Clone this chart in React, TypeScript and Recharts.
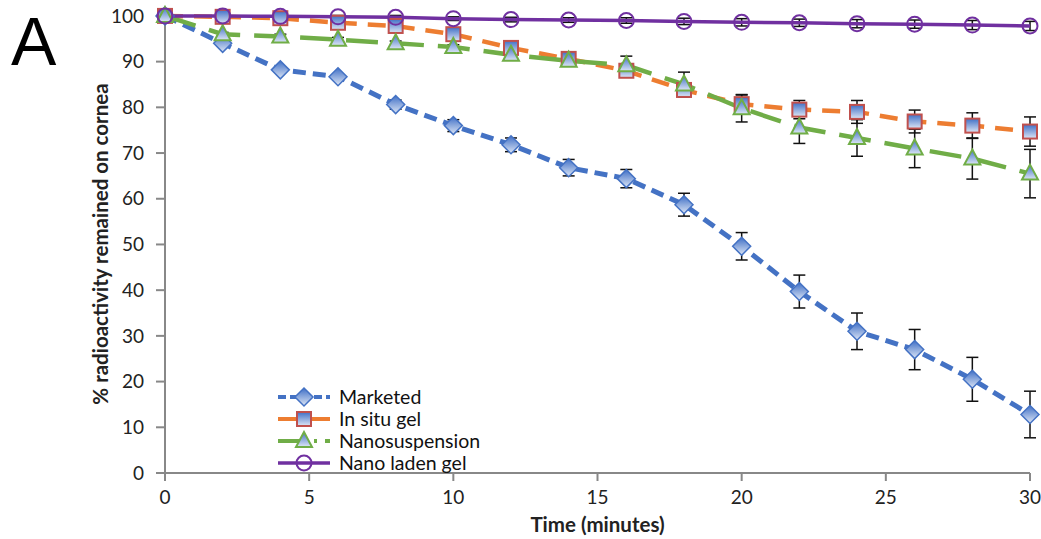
import React from 'react';
import { LineChart, Line, XAxis, YAxis, ErrorBar, Label } from 'recharts';

const times = [0, 2, 4, 6, 8, 10, 12, 14, 16, 18, 20, 22, 24, 26, 28, 30];
const marketed = [100, 94, 88.2, 86.7, 80.6, 76, 71.8, 66.8, 64.4, 58.7, 49.6, 39.7, 31, 27, 20.5, 12.8];
const marketedErr = [0, 0.5, 0.5, 0.5, 1, 1.3, 1.5, 1.8, 2, 2.5, 3, 3.6, 4, 4.4, 4.8, 5.1];
const inSitu = [100, 99.8, 99.5, 98.5, 97.8, 96, 93, 90.6, 88, 83.8, 80.7, 79.5, 79, 76.9, 76, 74.7];
const inSituErr = [0, 0.3, 0.5, 0.5, 0.7, 0.8, 1, 1, 1.2, 1.5, 2, 2, 2.5, 2.5, 2.8, 3.2];
const nanoSusp = [100, 96, 95.5, 94.8, 94, 93.2, 91.5, 90.2, 89.2, 85, 79.8, 75.6, 73.3, 71, 68.8, 65.5];
const nanoSuspErr = [0, 0.4, 0.5, 0.5, 0.5, 0.5, 0.8, 1, 2, 2.7, 3, 3.5, 4, 4.2, 4.5, 5.3];
const nanoGel = [100, 100, 99.9, 99.8, 99.7, 99.4, 99.2, 99.1, 99, 98.8, 98.6, 98.5, 98.3, 98.2, 98, 97.8];
const nanoGelErr = [0, 0.2, 0.3, 0.3, 0.4, 0.4, 0.5, 0.5, 0.6, 0.7, 0.8, 0.8, 0.9, 0.9, 1, 1];

const xTicks = [0, 5, 10, 15, 20, 25, 30];
const yTicks = [0, 10, 20, 30, 40, 50, 60, 70, 80, 90, 100];

const seriesNames = ['Marketed', 'In situ gel', 'Nanosuspension', 'Nano laden gel'];

const data = times.map((t, i) => ({
  t,
  m: marketed[i], mErr: marketedErr[i],
  s: inSitu[i], sErr: inSituErr[i],
  n: nanoSusp[i], nErr: nanoSuspErr[i],
  g: nanoGel[i], gErr: nanoGelErr[i],
}));

const BLUE = '#4472C4';
const ORANGE = '#ED7D31';
const RED = '#C0504D';
const GREEN = '#70AD47';
const PURPLE = '#7030A0';

const DiamondShape = ({ cx, cy, fill }: any) => (
  <polygon points={`${cx},${cy - 9} ${cx + 9},${cy} ${cx},${cy + 9} ${cx - 9},${cy}`} fill={fill || 'url(#gradBlue)'} stroke={BLUE} strokeWidth={1.5} />
);
const SquareShape = ({ cx, cy, fill }: any) => (
  <rect x={cx - 7} y={cy - 7} width={14} height={14} fill={fill || 'url(#gradBlue)'} stroke={RED} strokeWidth={2} />
);
const TriangleShape = ({ cx, cy, fill }: any) => (
  <polygon points={`${cx},${cy - 9} ${cx + 8},${cy + 6} ${cx - 8},${cy + 6}`} fill={fill || 'url(#gradBlue)'} stroke={GREEN} strokeWidth={2} />
);
const CircleShape = ({ cx, cy }: any) => (
  <circle cx={cx} cy={cy} r={7.5} fill="none" stroke={PURPLE} strokeWidth={2} />
);

const legendDefs = [
  { name: seriesNames[0], color: BLUE, dash: '8 4', width: 4, shape: DiamondShape },
  { name: seriesNames[1], color: ORANGE, dash: undefined, width: 4, shape: SquareShape },
  { name: seriesNames[2], color: GREEN, dash: '28 8 3 8', width: 4, shape: TriangleShape },
  { name: seriesNames[3], color: PURPLE, dash: undefined, width: 3.5, shape: CircleShape },
];

const LegendBox = () => (
  <div style={{ position: 'absolute', left: 276, top: 386, display: 'flex', flexDirection: 'column' }}>
    {legendDefs.map((d) => {
      const Shape = d.shape;
      return (
        <div key={d.name} style={{ display: 'flex', alignItems: 'center', height: 22 }}>
          <svg width={56} height={22}>
            <defs>
              <linearGradient id={`lg${d.width}${d.color.slice(1)}`} x1="0" y1="0" x2="0" y2="1">
                <stop offset="0%" stopColor="#3f6fc6" />
                <stop offset="100%" stopColor="#dde6f5" />
              </linearGradient>
            </defs>
            <line x1={2} y1={11} x2={54} y2={11} stroke={d.color} strokeWidth={d.width} strokeDasharray={d.dash} />
            <Shape cx={28} cy={11} fill={`url(#lg${d.width}${d.color.slice(1)})`} />
          </svg>
          <span style={{ marginLeft: 7, fontSize: 19.5, color: '#111', fontFamily: 'Lato', lineHeight: '22px' }}>{d.name}</span>
        </div>
      );
    })}
  </div>
);

export default function App() {
  return (
    <div style={{ position: 'absolute', left: 0, top: 0, width: 1041, height: 539, background: '#fff', fontFamily: 'Lato' }}>
      <div style={{ position: 'absolute', left: 11, top: 7, fontSize: 68, fontFamily: 'Liberation Sans', color: '#000', lineHeight: 1 }}>A</div>
      <LineChart width={1041} height={539} data={data} margin={{ top: 15, right: 11, bottom: 0, left: 0 }}>
        <defs>
          <linearGradient id="gradBlue" x1="0" y1="0" x2="0" y2="1">
            <stop offset="0%" stopColor="#3f6fc6" />
            <stop offset="100%" stopColor="#dde6f5" />
          </linearGradient>
        </defs>
        <XAxis
          dataKey="t"
          type="number"
          domain={[0, 30]}
          ticks={xTicks}
          height={66}
          stroke="#888"
          strokeWidth={2}
          tickSize={8}
          tickMargin={10}
          tick={{ fill: '#222', fontSize: 19 }}
        >
          <Label value="Time (minutes)" position="insideBottom" offset={7} style={{ fontWeight: 700, fontSize: 20.5, fill: '#222' }} />
        </XAxis>
        <YAxis
          type="number"
          domain={[0, 100]}
          ticks={yTicks}
          width={165}
          stroke="#888"
          strokeWidth={2}
          tickSize={9}
          tickMargin={12}
          tick={{ fill: '#222', fontSize: 19 }}
        >
          <Label value="% radioactivity remained on cornea" angle={-90} position="center" dx={18} style={{ fontWeight: 700, fontSize: 20.5, fill: '#222', textAnchor: 'middle' }} />
        </YAxis>
        <Line name={seriesNames[0]} dataKey="m" stroke={BLUE} strokeWidth={5} strokeDasharray="13 7" isAnimationActive={false}
          dot={(p: any) => <DiamondShape key={`m${p.index}`} cx={p.cx} cy={p.cy} />} activeDot={false}>
          <ErrorBar dataKey="mErr" direction="y" width={6} stroke="#111" strokeWidth={1.5} />
        </Line>
        <Line name={seriesNames[1]} dataKey="s" stroke={ORANGE} strokeWidth={4.5} strokeDasharray="18 11" isAnimationActive={false}
          dot={(p: any) => <SquareShape key={`s${p.index}`} cx={p.cx} cy={p.cy} />} activeDot={false}>
          <ErrorBar dataKey="sErr" direction="y" width={6} stroke="#111" strokeWidth={1.5} />
        </Line>
        <Line name={seriesNames[2]} dataKey="n" stroke={GREEN} strokeWidth={4.5} strokeDasharray="32 14" isAnimationActive={false}
          dot={(p: any) => <TriangleShape key={`n${p.index}`} cx={p.cx} cy={p.cy} />} activeDot={false}>
          <ErrorBar dataKey="nErr" direction="y" width={6} stroke="#111" strokeWidth={1.5} />
        </Line>
        <Line name={seriesNames[3]} dataKey="g" stroke={PURPLE} strokeWidth={3.5} isAnimationActive={false}
          dot={(p: any) => <CircleShape key={`g${p.index}`} cx={p.cx} cy={p.cy} />} activeDot={false}>
          <ErrorBar dataKey="gErr" direction="y" width={6} stroke="#111" strokeWidth={1.5} />
        </Line>
      </LineChart>
      <LegendBox />
    </div>
  );
}
